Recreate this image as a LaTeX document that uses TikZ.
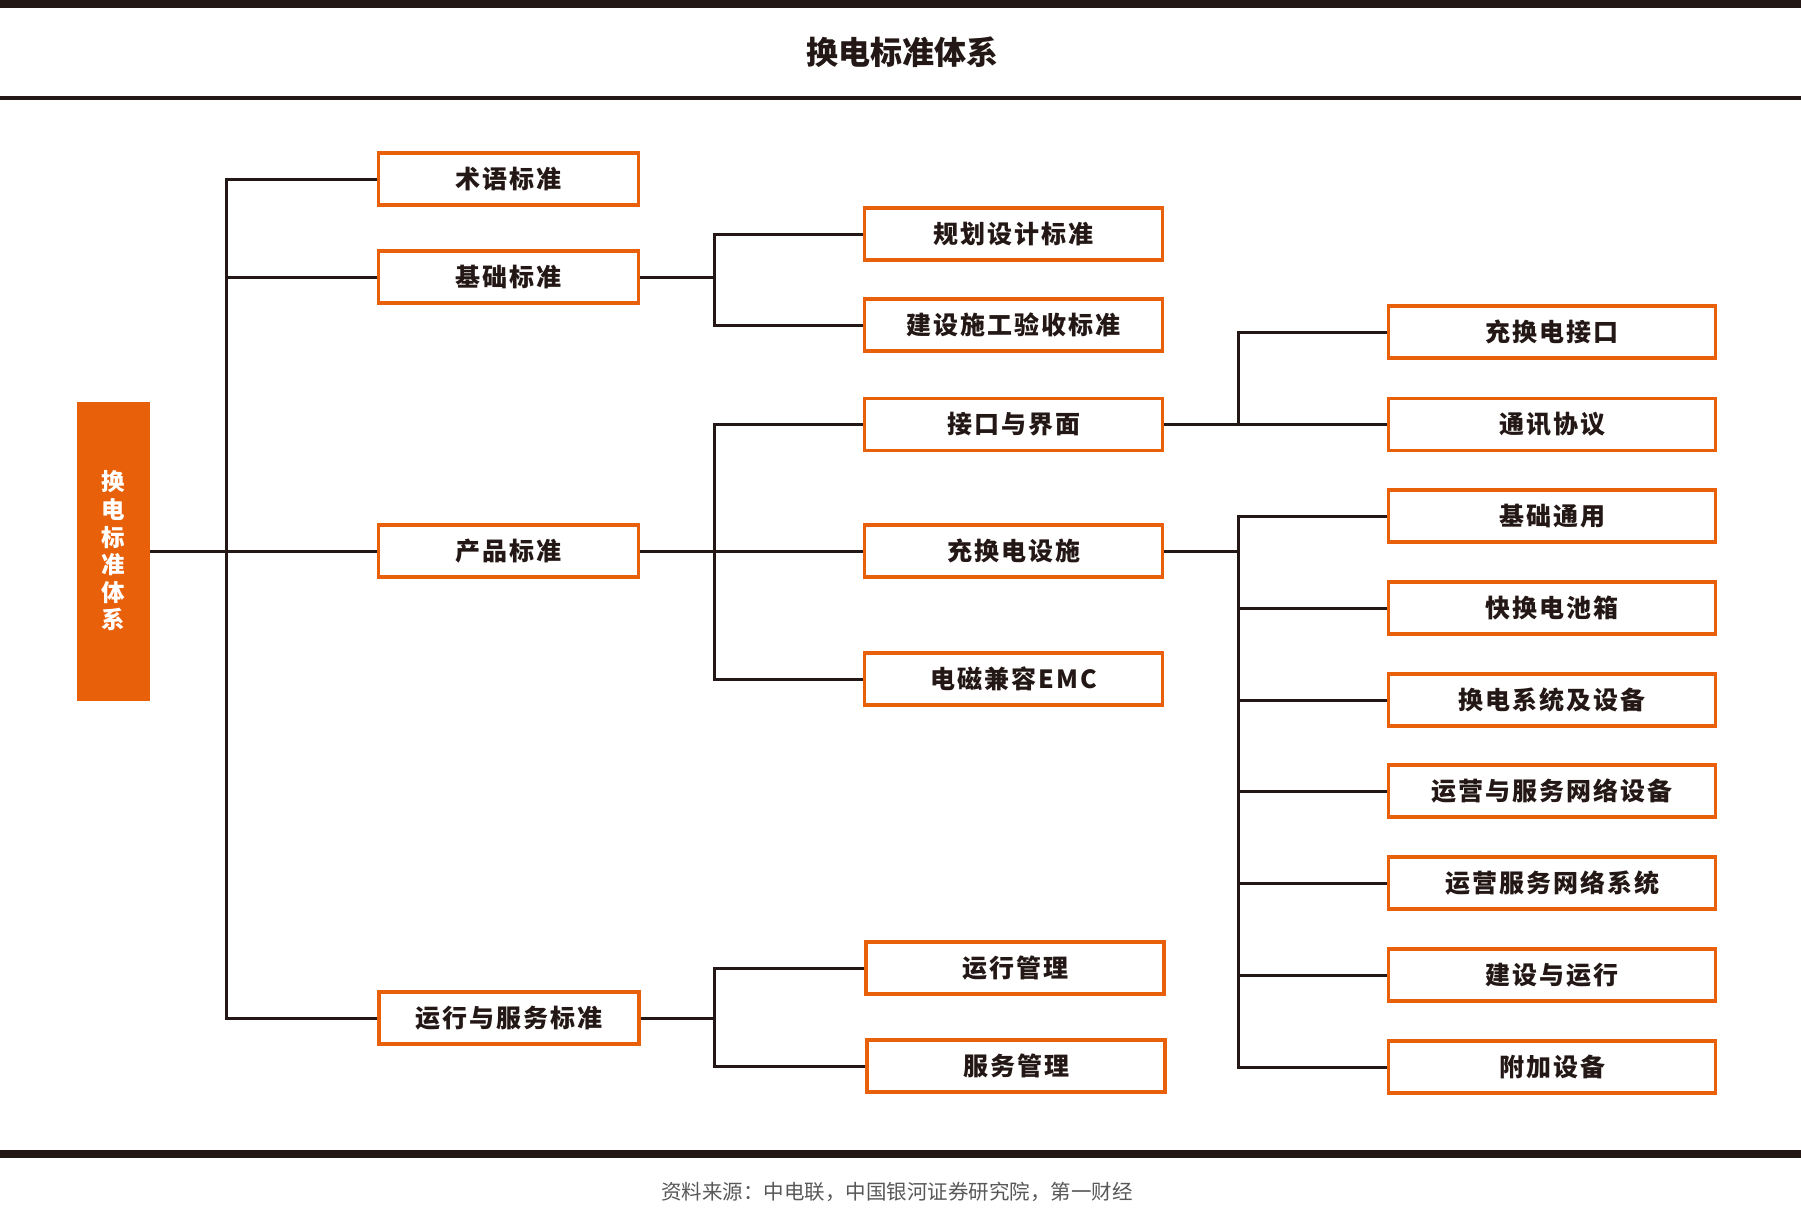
\documentclass[tikz,border=0pt]{standalone}
\usepackage{fontspec}
\newfontfamily\cjk{Noto Sans CJK SC}
\newfontfamily\cjkwide[LetterSpace=8]{Noto Sans CJK SC}
\definecolor{boxorange}{HTML}{E8600A}
\definecolor{inkdark}{HTML}{231815}
\definecolor{notegray}{HTML}{595757}
\tikzset{
	stdbox/.style={draw=boxorange, line width=3.5pt, fill=white, minimum height=52pt, inner sep=0pt, text=inkdark, font=\cjkwide\bfseries\fontsize{25}{30}\selectfont},
	lvlone/.style={stdbox, minimum width=260pt},
	lvltwo/.style={stdbox, minimum width=298pt},
	lvlthree/.style={stdbox, minimum width=327pt},
	link/.style={draw=inkdark, line width=3pt},
	rule/.style={fill=inkdark, draw=none}
}
\begin{document}
\begin{tikzpicture}[x=1pt, y=-1pt]
	\useasboundingbox (0,0) rectangle (1801,1231);

	% frame rules and captions
	\fill[rule] (0,0) rectangle (1801,8);
	\fill[rule] (0,96) rectangle (1801,100);
	\fill[rule] (0,1150) rectangle (1801,1158);
	\node[font=\cjk\bfseries\fontsize{32}{36}\selectfont, text=inkdark] (title) at (902,52) {换电标准体系};
	\node[font=\cjk\fontsize{20.5}{24}\selectfont, text=notegray] (source) at (897,1192) {资料来源：中电联，中国银河证券研究院，第一财经};

	% root
	\node[fill=boxorange, minimum width=73pt, minimum height=299pt, inner sep=0pt, align=center, text=white, font=\cjk\bfseries\fontsize{23.5}{27.6}\selectfont] (root) at (113.5,551) {换\\电\\标\\准\\体\\系};

	% first level
	\node[lvlone] (shuyu) at (508.5,179) {术语标准};
	\node[lvlone] (jichu) at (508.5,277) {基础标准};
	\node[lvlone] (chanpin) at (508.5,551) {产品标准};
	\node[lvlone] (yunfu) at (509,1018) {运行与服务标准};

	% second level
	\node[lvltwo] (guihua) at (1013.5,234) {规划设计标准};
	\node[lvltwo] (jianshe) at (1013.5,325) {建设施工验收标准};
	\node[lvltwo] (jiekou) at (1013.5,424.5) {接口与界面};
	\node[lvltwo] (sheshi) at (1013.5,551) {充换电设施};
	\node[lvltwo] (emc) at (1013.5,679) {电磁兼容EMC};
	\node[lvltwo] (yxgl) at (1015,968) {运行管理};
	\node[lvltwo] (fwgl) at (1016,1066) {服务管理};

	% third level
	\node[lvlthree] (cjk) at (1552,332) {充换电接口};
	\node[lvlthree] (txxy) at (1552,424.5) {通讯协议};
	\node[lvlthree] (jcty) at (1552,516) {基础通用};
	\node[lvlthree] (dcx) at (1552,608) {快换电池箱};
	\node[lvlthree] (xtsb) at (1552,700) {换电系统及设备};
	\node[lvlthree] (wlsb) at (1552,791) {运营与服务网络设备};
	\node[lvlthree] (wlxt) at (1552,883) {运营服务网络系统};
	\node[lvlthree] (jsyx) at (1552,975) {建设与运行};
	\node[lvlthree] (fjsb) at (1552,1067) {附加设备};

	% branch points
	\coordinate (trunk) at (226,551);
	\coordinate (jb) at (714,277);
	\coordinate (cb) at (714,551);
	\coordinate (yb) at (714,1018);
	\coordinate (kb) at (1238,424.5);
	\coordinate (sb) at (1238,551);

	% Draw the edges between nodes
	\draw[link] (root.east) -- (chanpin.west);
	\draw[link] (shuyu.west) -| (trunk) |- (yunfu.west);
	\draw[link] (jichu.west) -- (jichu.west -| trunk);

	\draw[link] (jichu.east) -- (jb);
	\draw[link] (guihua.west) -| (jb) |- (jianshe.west);

	\draw[link] (chanpin.east) -- (sheshi.west);
	\draw[link] (jiekou.west) -| (cb) |- (emc.west);

	\draw[link] (yunfu.east) -- (yb);
	\draw[link] (yxgl.west) -| (yb) |- (fwgl.west);

	\draw[link] (jiekou.east) -- (kb) -- (txxy.west);
	\draw[link] (cjk.west) -| (kb);

	\draw[link] (sheshi.east) -- (sb);
	\draw[link] (jcty.west) -| (sb) |- (fjsb.west);
	\draw[link] (dcx.west) -- (dcx.west -| sb);
	\draw[link] (xtsb.west) -- (xtsb.west -| sb);
	\draw[link] (wlsb.west) -- (wlsb.west -| sb);
	\draw[link] (wlxt.west) -- (wlxt.west -| sb);
	\draw[link] (jsyx.west) -- (jsyx.west -| sb);
\end{tikzpicture}
\end{document}
